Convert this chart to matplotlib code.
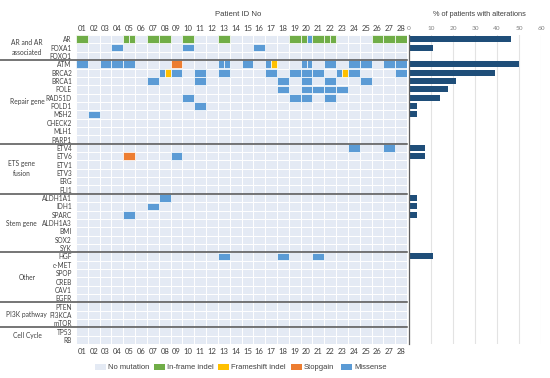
import matplotlib
matplotlib.use("Agg")
import matplotlib.pyplot as plt
from matplotlib.patches import Rectangle
from matplotlib.lines import Line2D
from matplotlib.transforms import blended_transform_factory

# ---------------- data ----------------
groups = ["AR and AR\nassociated", "Repair gene", "ETS gene\nfusion", "Stem gene",
          "Other", "PI3K pathway", "Cell Cycle"]
group_genes = [
    ["AR", "FOXA1", "FOXO1"],
    ["ATM", "BRCA2", "BRCA1", "POLE", "RAD51D", "POLD1", "MSH2", "CHECK2", "MLH1", "PARP1"],
    ["ETV4", "ETV6", "ETV1", "ETV3", "ERG", "FLI1"],
    ["ALDH1A1", "IDH1", "SPARC", "ALDH1A3", "BMI", "SOX2", "SYK"],
    ["HGF", "c-MET", "SPOP", "CREB", "CAV1", "EGFR"],
    ["PTEN", "PI3KCA", "mTOR"],
    ["TP53", "RB"],
]
patients = ["%02d" % i for i in range(1, 29)]

# (gene, patient number) — repeated entries mean split cells
inframe = [("AR", 1), ("AR", 5), ("AR", 5), ("AR", 7), ("AR", 8), ("AR", 10), ("AR", 13),
           ("AR", 19), ("AR", 20), ("AR", 21), ("AR", 22), ("AR", 22), ("AR", 26),
           ("AR", 27), ("AR", 28)]
missense = [("AR", 20),
            ("FOXA1", 4), ("FOXA1", 10), ("FOXA1", 16),
            ("ATM", 1), ("ATM", 3), ("ATM", 4), ("ATM", 5), ("ATM", 13), ("ATM", 13),
            ("ATM", 15), ("ATM", 17), ("ATM", 20), ("ATM", 20), ("ATM", 22), ("ATM", 24),
            ("ATM", 25), ("ATM", 27), ("ATM", 28),
            ("BRCA2", 8), ("BRCA2", 9), ("BRCA2", 11), ("BRCA2", 13), ("BRCA2", 17),
            ("BRCA2", 19), ("BRCA2", 20), ("BRCA2", 21), ("BRCA2", 23), ("BRCA2", 24),
            ("BRCA2", 28),
            ("BRCA1", 7), ("BRCA1", 11), ("BRCA1", 18), ("BRCA1", 20), ("BRCA1", 22),
            ("BRCA1", 25),
            ("POLE", 18), ("POLE", 20), ("POLE", 21), ("POLE", 22), ("POLE", 23),
            ("RAD51D", 10), ("RAD51D", 19), ("RAD51D", 20), ("RAD51D", 22),
            ("POLD1", 11), ("MSH2", 2),
            ("ETV4", 24), ("ETV4", 27), ("ETV6", 9),
            ("ALDH1A1", 8), ("IDH1", 7), ("SPARC", 5),
            ("HGF", 13), ("HGF", 18), ("HGF", 21)]
frameshift = [("ATM", 17), ("BRCA2", 8), ("BRCA2", 23)]
stopgain = [("ATM", 9), ("ETV6", 5)]

legend_labels = ["No mutation", "In-frame indel", "Frameshift indel", "Stopgain", "Missense"]
bar_ticks = [0, 10, 20, 30, 40, 50, 60]

# ---------------- styles ----------------
C_BG = "#E4EAF4"
C_IN = "#70AD47"
C_FS = "#FFC000"
C_SG = "#ED7D31"
C_MS = "#5B9BD5"
C_BAR = "#1F4E79"
LAB_FONT = ["Lato", "DejaVu Sans"]
TXT_FONT = ["Liberation Sans", "DejaVu Sans"]
group_label_x = [27, 27, 22, 21, 27, 26, 27]

genes = [g for gl in group_genes for g in gl]
nrow = len(genes)
ncol = len(patients)
row_of = {g: i for i, g in enumerate(genes)}

# collect cell contents in order: in-frame, missense, frameshift, stopgain
cells = {}
for lst, col in [(inframe, C_IN), (missense, C_MS), (frameshift, C_FS), (stopgain, C_SG)]:
    for g, p in lst:
        cells.setdefault((g, p), []).append(col)

W, H = 550, 378
fig = plt.figure(figsize=(W / 100, H / 100), dpi=100)
fx = lambda px: px / W
fy = lambda py: 1 - py / H

top_px, bot_px = 35.1, 344.2
hl, hr = 76, 407
ax = fig.add_axes([fx(hl), fy(bot_px), fx(hr - hl), (bot_px - top_px) / H])
ax.set_xlim(0, ncol)
ax.set_ylim(nrow, 0)
for s in ax.spines.values():
    s.set_visible(False)

for r in range(nrow):
    for c in range(ncol):
        ax.add_patch(Rectangle((c, r), 1, 1, facecolor=C_BG, edgecolor="white", lw=0.7))

for (g, p), cols in cells.items():
    r = row_of[g]
    c = p - 1
    n = len(cols)
    w = 1.0 / n
    for k, colr in enumerate(cols):
        ax.add_patch(Rectangle((c + k * w, r + 0.04), w, 0.92, facecolor=colr,
                               edgecolor="white", lw=0.5))

ax.set_xticks([i + 0.5 for i in range(ncol)])
ax.set_xticklabels(patients, fontsize=5.5, color="#404040", family=LAB_FONT)
ax.tick_params(axis="x", top=True, labeltop=True, bottom=True, labelbottom=True,
               length=0, pad=2.5)
ax.set_yticks([i + 0.5 for i in range(nrow)])
ax.set_yticklabels(genes, fontsize=4.7, color="#404040", family=LAB_FONT)
ax.tick_params(axis="y", length=0, pad=3)

# group separators and labels
tr = blended_transform_factory(fig.transFigure, ax.transData)
start = 0
for gi, gl in enumerate(group_genes):
    end = start + len(gl)
    if gi > 0:
        fig.add_artist(Line2D([0, fx(hr)], [start, start], transform=tr,
                              color="#505050", lw=1.1))
    ax.text(fx(group_label_x[gi]), (start + end) / 2, groups[gi], transform=tr, ha="center",
            va="center", fontsize=4.8, color="#404040", family=LAB_FONT, linespacing=1.5)
    start = end

fig.text(fx(238), fy(15), "Patient ID No", ha="center", va="center", fontsize=5.6,
         color="#404040", family=TXT_FONT)

# bar chart
bx = fig.add_axes([fx(409), fy(bot_px), fx(541 - 409), (bot_px - top_px) / H])
pct = []
for g in genes:
    pts = set(p for (gg, p) in cells if gg == g)
    pct.append(100.0 * len(pts) / ncol)
bx.barh([i + 0.5 for i in range(nrow)], pct, height=0.72, color=C_BAR)
bx.set_ylim(nrow, 0)
bx.set_xlim(0, 60)
bx.set_xticks(bar_ticks)
bx.set_xticklabels([str(t) for t in bar_ticks], fontsize=4.6, color="#808080", family=LAB_FONT)
bx.xaxis.tick_top()
bx.tick_params(axis="x", length=0, pad=3)
bx.set_yticks([])
bx.grid(axis="x", color="#E3E3E3", lw=0.8)
bx.set_axisbelow(True)
for k in ["top", "right", "bottom"]:
    bx.spines[k].set_visible(False)
bx.spines["left"].set_color("#606060")
bx.spines["left"].set_linewidth(0.9)
fig.text(fx(479), fy(15), "% of patients with alterations", ha="center", va="center",
         fontsize=5.3, color="#404040", family=TXT_FONT)

# legend
leg_cols = [C_BG, C_IN, C_FS, C_SG, C_MS]
leg_px = [95, 154, 218, 291, 341]
for lab, colr, x0 in zip(legend_labels, leg_cols, leg_px):
    fig.add_artist(Rectangle((fx(x0), fy(370)), fx(11), 6 / H, facecolor=colr,
                             edgecolor="none", transform=fig.transFigure))
    fig.text(fx(x0 + 13), fy(367.5), lab, ha="left", va="center", fontsize=5.5,
             color="#404040", family=TXT_FONT)

fig.savefig("out.png", dpi=100)
